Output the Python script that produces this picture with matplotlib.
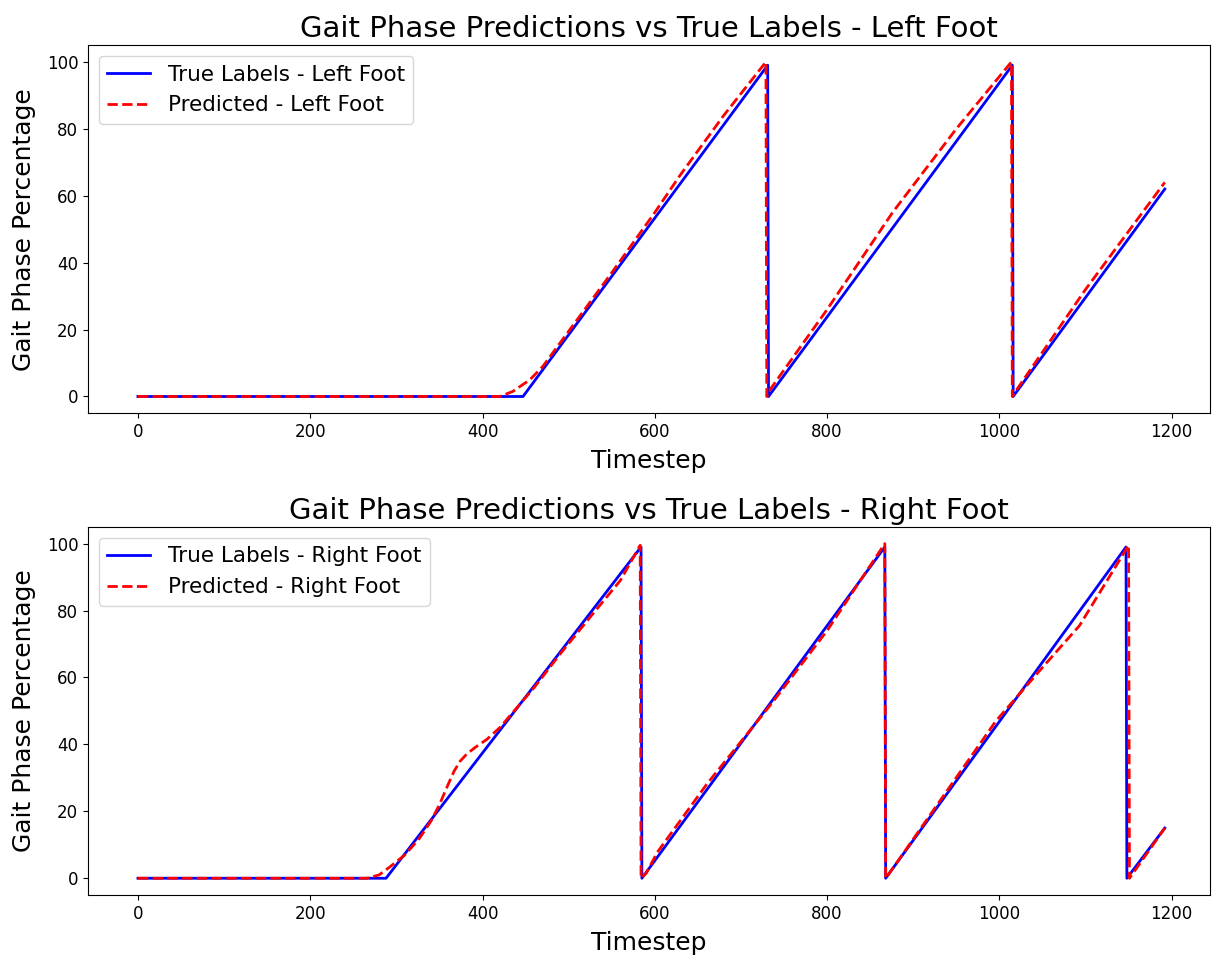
import matplotlib
matplotlib.use("Agg")
import matplotlib.pyplot as plt

# Left foot: true gait phase (corner points of the ramps) and model output
left_true_t = [0, 447, 731, 732, 1015, 1016, 1192]
left_true_v = [0, 0, 99, 0, 99, 0, 62]

left_pred_t = [0, 420, 435, 455, 470, 500, 550, 600, 629, 680, 729, 730,
               735, 800, 876, 950, 1014, 1015, 1020, 1100, 1192]
left_pred_v = [0, 0, 1.5, 5, 9, 19.5, 37, 55, 66, 84, 100, 0,
               2.5, 26, 55, 80, 100, 0, 2, 32, 64]

# Right foot
right_true_t = [0, 288, 584, 585, 867, 868, 1147, 1148, 1192]
right_true_v = [0, 0, 99, 0, 99, 0, 99, 0, 15]

right_pred_t = [0, 266, 280, 292, 310, 327, 340, 350, 360, 367, 374, 382,
                392, 405, 420, 432, 460, 490, 528, 560, 583, 584, 590, 603,
                660, 737, 800, 867, 868, 875, 938, 996, 1050, 1093, 1150,
                1151, 1192]
right_pred_v = [0, 0, 1, 3.3, 7, 12, 17, 22, 28, 32, 35, 37.2,
                39.2, 41.5, 45, 48.6, 57, 67, 79, 89, 99.5, 0, 1.5, 7.8,
                28, 52.7, 74, 100, 0, 2.5, 25.7, 47, 63, 75.5, 99.5,
                0, 15]

feet = [
    ("Left Foot", left_true_t, left_true_v, left_pred_t, left_pred_v),
    ("Right Foot", right_true_t, right_true_v, right_pred_t, right_pred_v),
]

fig = plt.figure(figsize=(12.12, 9.61), dpi=100)
ax_top = fig.add_axes([0.0726, 0.570, 0.9254, 0.383])
ax_bottom = fig.add_axes([0.0726, 0.0687, 0.9254, 0.383])

for ax, (foot, t_true, v_true, t_pred, v_pred) in zip([ax_top, ax_bottom], feet):
    ax.plot(t_true, v_true, color="blue", linewidth=2, label="True Labels - " + foot)
    ax.plot(t_pred, v_pred, color="red", linestyle="--", linewidth=2, label="Predicted - " + foot)
    ax.set_xlim(-58, 1244)
    ax.set_title("Gait Phase Predictions vs True Labels - " + foot, fontsize=21)
    ax.set_xlabel("Timestep", fontsize=18, labelpad=6)
    ax.set_ylabel("Gait Phase Percentage", fontsize=18, labelpad=8)
    ax.tick_params(labelsize=12)
    ax.legend(loc="upper left", fontsize=15.5)

fig.savefig("out.png", dpi=100)
